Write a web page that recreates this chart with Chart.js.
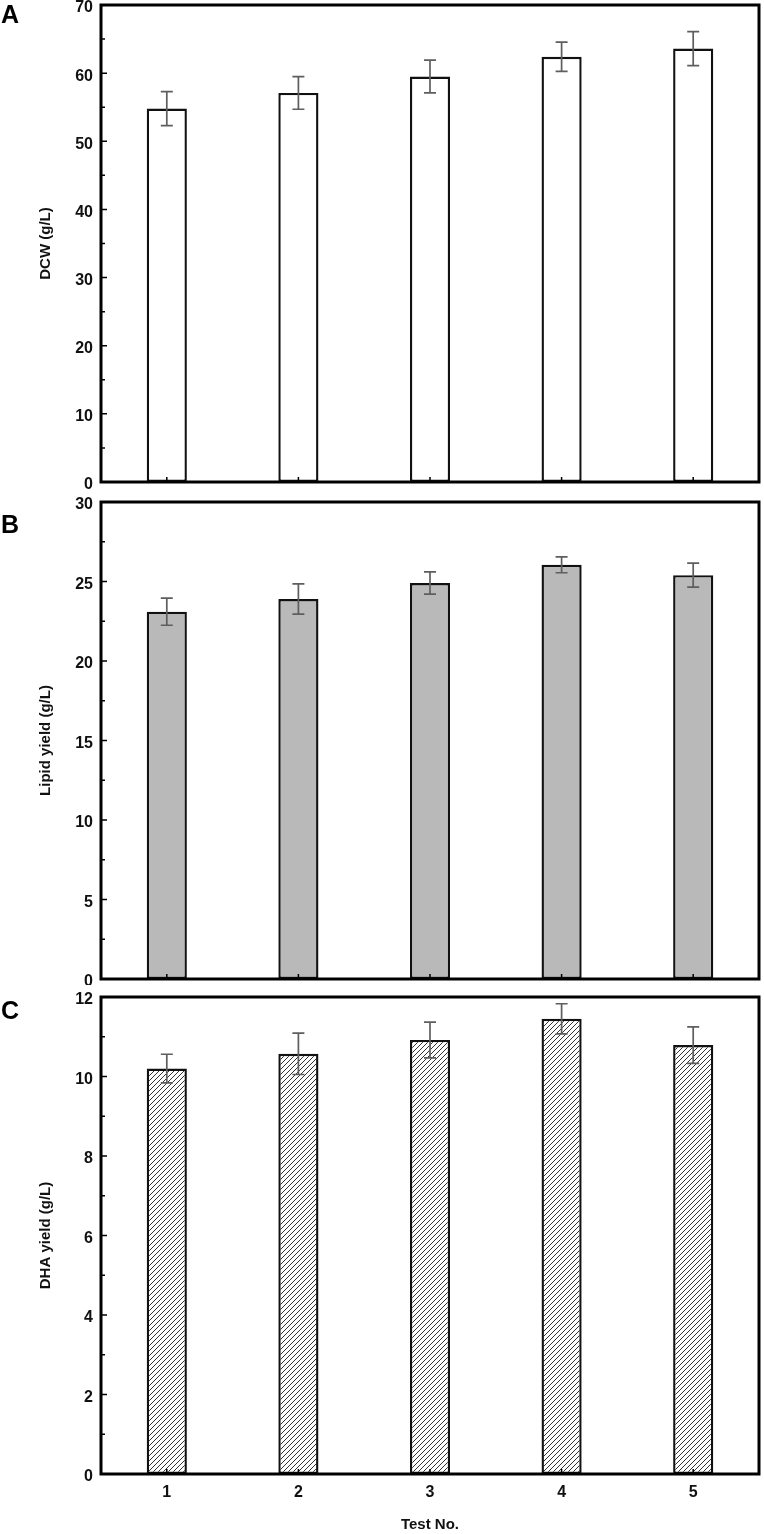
<!DOCTYPE html>
<html lang="en">
<head>
<meta charset="UTF-8">
<title>DCW, lipid and DHA yield by test</title>
<script src="https://cdn.jsdelivr.net/npm/chart.js@4"></script>
<style>
  body { margin: 0; background: #fff; }
  #wrap { position: relative; width: 764px; height: 1534px; }
  canvas { position: absolute; left: 0; }
  .tag { position: absolute; left: 1px; font: bold 25px "Liberation Sans", Arial, sans-serif; color: #000; line-height: 1; }
</style>
</head>
<body>
<div id="wrap">
  <canvas id="chartA" width="764" height="490" style="top:0"></canvas>
  <canvas id="chartB" width="764" height="495" style="top:490px"></canvas>
  <canvas id="chartC" width="764" height="549" style="top:985px"></canvas>
  <div class="tag" style="top:2px">A</div>
  <div class="tag" style="top:512px">B</div>
  <div class="tag" style="top:998px">C</div>
</div>
<script>
// values
const categories = ['1', '2', '3', '4', '5'];
const dcw = [54.8, 57.1, 59.5, 62.4, 63.6];
const dcwErr = [2.5, 2.4, 2.4, 2.15, 2.5];
const lipid = [23.1, 23.9, 24.9, 26.05, 25.4];
const lipidErr = [0.85, 0.95, 0.7, 0.5, 0.75];
const dha = [10.2, 10.57, 10.92, 11.45, 10.79];
const dhaErr = [0.36, 0.52, 0.45, 0.38, 0.46];

const FONT = '"Liberation Sans", Arial, sans-serif';

// hatch pattern for panel C
function hatch() {
    const c = document.createElement('canvas');
    c.width = 5; c.height = 5;
    const g = c.getContext('2d');
    g.fillStyle = '#fff';
    g.fillRect(0, 0, 5, 5);
    g.strokeStyle = '#333';
    g.lineWidth = 1;
    g.beginPath();
    g.moveTo(-1, 6); g.lineTo(6, -1);
    g.moveTo(-1, 1); g.lineTo(1, -1);
    g.moveTo(4, 6); g.lineTo(6, 4);
    g.stroke();
    return g.createPattern(c, 'repeat');
}

// error bars, inside ticks and frame
const extras = {
    id: 'extras',
    afterDatasetsDraw(chart, args, opts) {
        const ctx = chart.ctx;
        const y = chart.scales.y;
        const meta = chart.getDatasetMeta(0);
        const vals = chart.data.datasets[0].data;
        ctx.save();
        ctx.strokeStyle = '#5e5e5e';
        ctx.lineWidth = 1.7;
        meta.data.forEach((bar, i) => {
            const top = y.getPixelForValue(vals[i] + opts.err[i]);
            const bot = y.getPixelForValue(vals[i] - opts.err[i]);
            ctx.beginPath();
            ctx.moveTo(bar.x, top); ctx.lineTo(bar.x, bot);
            ctx.moveTo(bar.x - 6, top); ctx.lineTo(bar.x + 6, top);
            ctx.moveTo(bar.x - 6, bot); ctx.lineTo(bar.x + 6, bot);
            ctx.stroke();
        });
        ctx.restore();
    },
    afterDraw(chart, args, opts) {
        const ctx = chart.ctx;
        const a = chart.chartArea;
        const y = chart.scales.y;
        const meta = chart.getDatasetMeta(0);
        ctx.save();
        ctx.strokeStyle = '#000';
        ctx.lineWidth = 1.5;
        ctx.beginPath();
        const half = opts.step / 2;
        for (let v = half; v < y.max; v += half) {
            const py = y.getPixelForValue(v);
            const major = Math.abs(v / opts.step - Math.round(v / opts.step)) < 1e-6;
            ctx.moveTo(a.left, py);
            ctx.lineTo(a.left + (major ? 6 : 4), py);
        }
        meta.data.forEach(bar => {
            ctx.moveTo(bar.x, a.bottom);
            ctx.lineTo(bar.x, a.bottom - 5);
        });
        ctx.stroke();
        ctx.lineWidth = 3;
        ctx.strokeRect(a.left, a.top, a.right - a.left, a.bottom - a.top);
        ctx.restore();
    }
};

function makeChart(id, data, err, fill, max, step, yTitle, padTop, xHeight, showX) {
    return new Chart(document.getElementById(id), {
        type: 'bar',
        data: {
            labels: categories,
            datasets: [{
                data: data,
                backgroundColor: fill,
                borderColor: '#111',
                borderWidth: 2.4,
                borderSkipped: false,
                categoryPercentage: 1,
                barPercentage: 0.305
            }]
        },
        options: {
            responsive: false,
            animation: false,
            events: [],
            layout: { padding: { top: padTop, right: 5, left: 0, bottom: 0 } },
            plugins: {
                legend: { display: false },
                tooltip: { enabled: false },
                extras: { err: err, step: step }
            },
            scales: {
                x: {
                    grid: { display: false, drawTicks: false },
                    border: { display: false },
                    ticks: {
                        display: showX,
                        padding: 9,
                        color: '#111',
                        font: { family: FONT, size: 16, weight: 'bold' }
                    },
                    title: {
                        display: showX,
                        text: 'Test No.',
                        color: '#111',
                        padding: { top: 0, bottom: 0 },
                        font: { family: FONT, size: 15, weight: 'bold' }
                    },
                    afterFit(s) { s.height = xHeight; s.paddingLeft = 0; s.paddingRight = 0; }
                },
                y: {
                    min: 0,
                    max: max,
                    grid: { display: false, drawTicks: false },
                    border: { display: false },
                    ticks: {
                        stepSize: step,
                        padding: 8,
                        labelOffset: 3,
                        color: '#111',
                        font: { family: FONT, size: 16, weight: 'bold' }
                    },
                    title: {
                        display: true,
                        text: yTitle,
                        color: '#111',
                        padding: { top: 37, bottom: 0 },
                        font: { family: FONT, size: 15, weight: 'bold' }
                    },
                    afterFit(s) { s.width = 101; s.paddingTop = 0; s.paddingBottom = 0; }
                }
            }
        },
        plugins: [extras]
    });
}

makeChart('chartA', dcw, dcwErr, '#fff', 70, 10, 'DCW (g/L)', 5, 8, false);
makeChart('chartB', lipid, lipidErr, '#b9b9b9', 30, 5, 'Lipid yield (g/L)', 12, 6, false);
makeChart('chartC', dha, dhaErr, hatch(), 12, 2, 'DHA yield (g/L)', 12, 60, true);
</script>
</body>
</html>
